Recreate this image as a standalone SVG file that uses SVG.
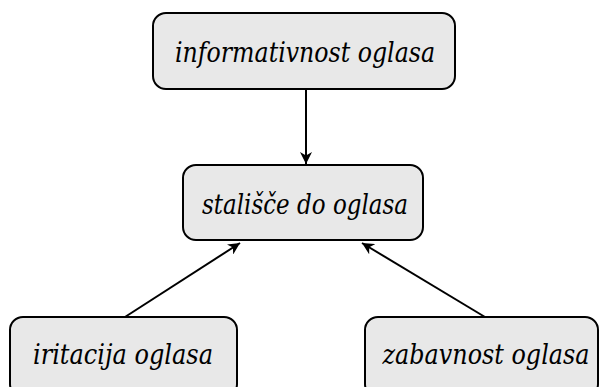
<svg xmlns="http://www.w3.org/2000/svg" width="602" height="387" viewBox="0 0 602 387">
<defs>
<style>
.box{fill:#e8e8e8;stroke:#000;stroke-width:2}
text{font-family:'DejaVu Serif','Liberation Serif',serif;font-style:italic;font-size:27px;fill:#000;text-anchor:middle}
.c{stroke:#000;stroke-width:2;fill:none;marker-end:url(#ah)}
</style>
<marker id="ah" viewBox="0 0 10 10" refX="10" refY="5" markerWidth="6" markerHeight="6" markerUnits="strokeWidth" orient="auto">
<path d="M0,0 L10,5 L0,10 L3,5 Z" fill="#000"/>
</marker>
</defs>
<rect width="602" height="387" fill="#fff"/>
<g id="connectors">
<line class="c" x1="306" y1="89" x2="306" y2="164"/>
<line class="c" x1="125" y1="317" x2="240" y2="243"/>
<line class="c" x1="485" y1="317" x2="362" y2="243"/>
</g>
<g id="informativnost">
<rect class="box" x="153" y="13" width="302" height="76" rx="13"/>
<text x="305" y="62" textLength="260" lengthAdjust="spacingAndGlyphs">informativnost oglasa</text>
</g>
<g id="stalisce">
<rect class="box" x="183" y="165" width="240" height="75" rx="13"/>
<text x="305" y="214" textLength="206" lengthAdjust="spacingAndGlyphs">stališče do oglasa</text>
</g>
<g id="iritacija">
<rect class="box" x="10" y="317" width="227" height="80" rx="13"/>
<text x="123" y="364" textLength="180" lengthAdjust="spacingAndGlyphs">iritacija oglasa</text>
</g>
<g id="zabavnost">
<rect class="box" x="365" y="317" width="233" height="80" rx="13"/>
<text x="486" y="364" textLength="207" lengthAdjust="spacingAndGlyphs">zabavnost oglasa</text>
</g>
</svg>
